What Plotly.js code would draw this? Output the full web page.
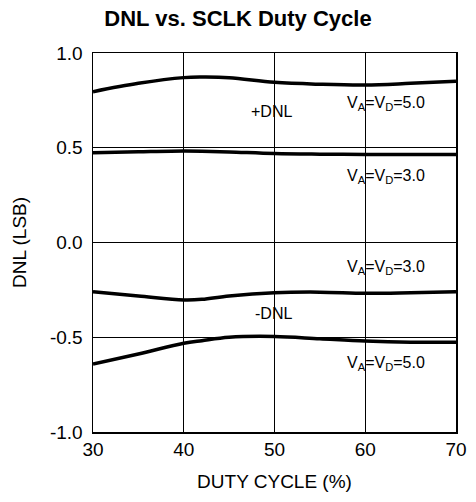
<!DOCTYPE html>
<html><head><meta charset="utf-8">
<script src="https://cdn.plot.ly/plotly-3.0.1.min.js"></script>
<style>html,body{margin:0;padding:0;background:#fff}</style>
</head><body><div id="chart" style="width:476px;height:502px"></div>
<script>
const duty = [30, 35, 40, 42, 45, 50, 55, 60, 65, 70];
const posDnl5 = [0.796, 0.84, 0.870, 0.873, 0.870, 0.845, 0.835, 0.831, 0.84, 0.851];
const posDnl3 = [0.474, 0.479, 0.483, 0.482, 0.478, 0.469, 0.466, 0.465, 0.465, 0.465];
const negDnl3 = [-0.26, -0.282, -0.303, -0.300, -0.282, -0.265, -0.262, -0.268, -0.265, -0.26];
const negDnl5 = [-0.641, -0.588, -0.532, -0.518, -0.50, -0.496, -0.508, -0.52, -0.526, -0.526];
const yTicks = [-1.0, -0.5, 0.0, 0.5, 1.0];
const xTicks = [30, 40, 50, 60, 70];
const labels = [
  {x: 49.7, y: 0.69, t: '+DNL'},
  {x: 62.3, y: 0.735, t: 'V<sub>A</sub>=V<sub>D</sub>=5.0'},
  {x: 62.3, y: 0.347, t: 'V<sub>A</sub>=V<sub>D</sub>=3.0'},
  {x: 62.3, y: -0.131, t: 'V<sub>A</sub>=V<sub>D</sub>=3.0'},
  {x: 49.9, y: -0.374, t: '-DNL'},
  {x: 62.3, y: -0.637, t: 'V<sub>A</sub>=V<sub>D</sub>=5.0'}
];
const series = [posDnl5, posDnl3, negDnl3, negDnl5];
const traces = series.map(s => ({
  x: duty, y: s, type: 'scatter', mode: 'lines',
  line: {color: '#000', width: 3.5, shape: 'spline', smoothing: 1},
  hoverinfo: 'none', showlegend: false
}));
const font = 'Liberation Sans, Arial, Helvetica, sans-serif';
const layout = {
  width: 476, height: 502,
  margin: {l: 93, r: 20, t: 53, b: 70},
  paper_bgcolor: '#fff', plot_bgcolor: '#fff',
  font: {family: font, color: '#000', size: 18},
  title: {text: '<b>DNL vs. SCLK Duty Cycle</b>', font: {size: 22, family: font, color: '#000'}, x: 0.5, xanchor: 'center', xref: 'container', y: 0.963, yanchor: 'middle', yref: 'container'},
  xaxis: {
    range: [30, 70], tickvals: xTicks, ticktext: xTicks.map(String),
    showgrid: true, gridcolor: '#000', gridwidth: 1,
    showline: true, linecolor: '#000', linewidth: 1.5, mirror: true,
    zeroline: false, ticks: '', tickfont: {size: 19},
    title: {text: 'DUTY CYCLE (%)', font: {size: 19}, standoff: 15}
  },
  yaxis: {
    range: [-1, 1], tickvals: yTicks, ticktext: yTicks.map(v => v.toFixed(1)),
    showgrid: true, gridcolor: '#000', gridwidth: 1,
    showline: true, linecolor: '#000', linewidth: 1.5, mirror: true,
    zeroline: false, ticks: '', tickfont: {size: 19}, ticklabelstandoff: 5,
    title: {text: 'DNL (LSB)', font: {size: 19}, standoff: 18}
  },
  annotations: labels.map(a => ({
    x: a.x, y: a.y, xref: 'x', yref: 'y', text: a.t, showarrow: false,
    font: {size: 16, family: font, color: '#000'}, xanchor: 'center', yanchor: 'middle'
  }))
};
Plotly.newPlot('chart', traces, layout, {staticPlot: true, displayModeBar: false});
</script></body></html>
